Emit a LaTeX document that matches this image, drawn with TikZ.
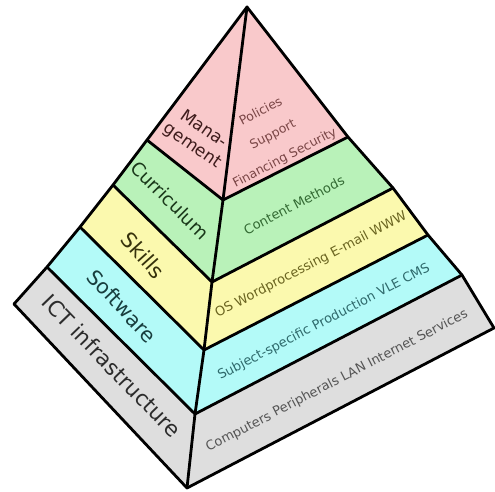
\documentclass[tikz,border=0pt]{standalone}
\usepackage{fontspec}
\setmainfont{DejaVu Sans}
\definecolor{cpink}{HTML}{F9C9CB}
\definecolor{cgreen}{HTML}{B9F2B9}
\definecolor{cyellow}{HTML}{FBF9AE}
\definecolor{ccyan}{HTML}{B3FAF8}
\definecolor{cgray}{HTML}{DEDEDE}
\definecolor{tpink}{HTML}{3E1C1C}
\definecolor{tgreen}{HTML}{1A381A}
\definecolor{tyellow}{HTML}{36320C}
\definecolor{tcyan}{HTML}{183E3E}
\definecolor{tgray}{HTML}{2C2C2C}
\definecolor{rpink}{HTML}{7A4646}
\definecolor{rgreen}{HTML}{336A33}
\definecolor{ryellow}{HTML}{6A6420}
\definecolor{rcyan}{HTML}{2F6A6C}
\definecolor{rgray}{HTML}{555555}
\tikzset{
  edge/.style={line width=2.8pt, line join=round, line cap=round},
  leftlabel/.style={inner sep=0pt, align=center},
  rightlabel/.style={inner sep=0pt, align=center, rotate=27.5, font=\fontsize{13}{14}\selectfont},
}
\begin{document}
\begin{tikzpicture}[x=1pt,y=-1pt]
\useasboundingbox (0,0) rectangle (495,491);
% key points
\coordinate (A) at (247,7);
\coordinate (L1) at (147,140);
\coordinate (L2) at (113,185);
\coordinate (L3) at (80,227);
\coordinate (L4) at (47,267);
\coordinate (L5) at (14,304);
\coordinate (F1) at (223,200);
\coordinate (F2) at (212,282);
\coordinate (F3) at (204,350);
\coordinate (F4) at (195,414);
\coordinate (F5) at (187,488);
\coordinate (R1) at (348,137);
\coordinate (R2) at (393,188);
\coordinate (R3) at (428,235);
\coordinate (R4) at (462,275);
\coordinate (R5) at (494,328);
% fills
\fill[cpink] (A) -- (L1) -- (F1) -- (R1) -- cycle;
\fill[cgreen] (L1) -- (L2) -- (F2) -- (R2) -- (R1) -- (F1) -- cycle;
\fill[cyellow] (L2) -- (L3) -- (F3) -- (R3) -- (R2) -- (F2) -- cycle;
\fill[ccyan] (L3) -- (L4) -- (F4) -- (R4) -- (R3) -- (F3) -- cycle;
\fill[cgray] (L4) -- (L5) -- (F5) -- (R5) -- (R4) -- (F4) -- cycle;
% layer boundaries
\draw[edge] (L1) -- (F1) -- (R1);
\draw[edge] (L2) -- (F2) -- (R2);
\draw[edge] (L3) -- (F3) -- (R3);
\draw[edge] (L4) -- (F4) -- (R4);
% outline and front edge
\draw[edge] (A) -- (L1) -- (L2) -- (L3) -- (L4) -- (L5) -- (F5) -- (R5) -- (R4) -- (R3) -- (R2) -- (R1) -- cycle;
\draw[edge] (A) -- (F1) -- (F2) -- (F3) -- (F4) -- (F5);
% left labels
\node[leftlabel, rotate=-35, text=tpink, font=\fontsize{17}{20}\selectfont] (mgmt) at (198,138) {Mana-\\gement};
\node[leftlabel, rotate=-45, text=tgreen, font=\fontsize{18.5}{20}\selectfont] (curr) at (170,200) {Curriculum};
\node[leftlabel, rotate=-48, text=tyellow, font=\fontsize{21}{22}\selectfont] (skills) at (143,255) {Skills};
\node[leftlabel, rotate=-47, text=tcyan, font=\fontsize{20.5}{22}\selectfont] (soft) at (122,306) {Software};
\node[leftlabel, rotate=-46, text=tgray, font=\fontsize{21.5}{22}\selectfont] (ict) at (112,366) {ICT infrastructure};
% right labels
\node[rightlabel, text=rpink, font=\fontsize{12.5}{26}\selectfont] (pol) at (273,135) {Policies\\Support\\Financing Security};
\node[rightlabel, text=rgreen] (cont) at (294,205) {Content Methods};
\node[rightlabel, text=ryellow] (os) at (311,265) {OS Wordprocessing E-mail WWW};
\node[rightlabel, text=rcyan] (subj) at (324,322) {Subject-specific Production VLE CMS};
\node[rightlabel, text=rgray] (comp) at (337,381) {Computers Peripherals LAN Internet Services};
\end{tikzpicture}
\end{document}
